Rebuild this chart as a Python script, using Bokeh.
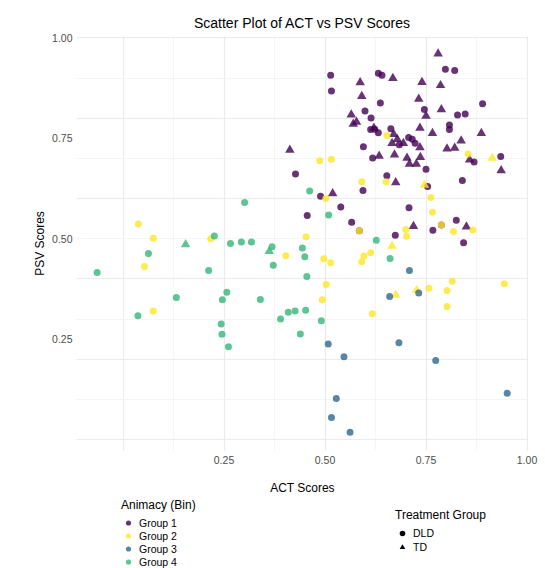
from bokeh.plotting import figure
from bokeh.layouts import column
from bokeh.models import FixedTicker, Legend, LegendItem, NumeralTickFormatter
from bokeh.embed import file_html
from bokeh.resources import INLINE

# ---------------- data ----------------
groups = ["Group 1", "Group 2", "Group 3", "Group 4"]
group_colors = ["#440154", "#FDE725", "#31688E", "#35B779"]
treatments = ["DLD", "TD"]
treatment_markers = ["circle", "triangle"]

x_tick_values = [0.25, 0.50, 0.75, 1.00]
y_tick_values = [0.25, 0.50, 0.75, 1.00]

# Group 1 (DLD)
g1_dld_act = [0.427, 0.456, 0.843, 0.798, 0.821, 0.514, 0.632, 0.641, 0.516, 0.637, 0.890,
              0.599, 0.746, 0.828, 0.847, 0.614, 0.808, 0.808, 0.613, 0.623, 0.632, 0.663,
              0.707, 0.716, 0.684, 0.723, 0.595, 0.618, 0.750, 0.869, 0.935, 0.653, 0.754,
              0.840, 0.594, 0.489, 0.539, 0.708, 0.566, 0.585, 0.767, 0.788, 0.825, 0.674]
g1_dld_psv = [0.661, 0.558, 0.490, 0.922, 0.919, 0.907, 0.912, 0.907, 0.868, 0.838, 0.836,
              0.818, 0.822, 0.808, 0.811, 0.801, 0.783, 0.772, 0.772, 0.773, 0.764, 0.774,
              0.752, 0.748, 0.734, 0.738, 0.729, 0.701, 0.673, 0.691, 0.705, 0.657, 0.630,
              0.645, 0.620, 0.606, 0.579, 0.577, 0.541, 0.520, 0.521, 0.534, 0.546, 0.509]
# Group 1 (TD)
g1_td_act = [0.413, 0.780, 0.587, 0.668, 0.740, 0.786, 0.591, 0.732, 0.788, 0.565, 0.750,
             0.570, 0.578, 0.621, 0.735, 0.766, 0.887, 0.670, 0.679, 0.666, 0.694, 0.735,
             0.802, 0.821, 0.837, 0.634, 0.672, 0.703, 0.736, 0.709, 0.726, 0.858, 0.936,
             0.675, 0.519, 0.719, 0.850]
g1_td_psv = [0.721, 0.961, 0.889, 0.900, 0.890, 0.882, 0.855, 0.848, 0.822, 0.809, 0.806,
             0.786, 0.791, 0.776, 0.776, 0.763, 0.763, 0.760, 0.748, 0.738, 0.738, 0.727,
             0.724, 0.726, 0.744, 0.706, 0.709, 0.701, 0.703, 0.686, 0.686, 0.697, 0.670,
             0.640, 0.613, 0.531, 0.530]
# Group 2 (DLD)
g2_dld_act = [0.038, 0.075, 0.217, 0.453, 0.403, 0.053, 0.075, 0.497, 0.514, 0.596, 0.613,
              0.591, 0.503, 0.493, 0.757, 0.815, 0.802, 0.802, 0.944, 0.617, 0.653, 0.487,
              0.516, 0.854, 0.591, 0.651, 0.502, 0.762, 0.766, 0.585, 0.700, 0.702, 0.788,
              0.818, 0.866]
g2_dld_psv = [0.537, 0.501, 0.500, 0.505, 0.458, 0.431, 0.320, 0.450, 0.440, 0.457, 0.465,
              0.443, 0.386, 0.348, 0.377, 0.394, 0.371, 0.331, 0.388, 0.313, 0.757, 0.694,
              0.698, 0.711, 0.642, 0.642, 0.600, 0.603, 0.566, 0.520, 0.523, 0.506, 0.534,
              0.518, 0.522]
# Group 2 (TD)
g2_td_act = [0.666, 0.675, 0.727, 0.914, 0.746]
g2_td_psv = [0.482, 0.360, 0.372, 0.701, 0.634]
# Group 3 (DLD)
g3_dld_act = [0.709, 0.660, 0.732, 0.508, 0.547, 0.683, 0.774, 0.951, 0.528, 0.516, 0.562]
g3_dld_psv = [0.421, 0.356, 0.365, 0.238, 0.206, 0.241, 0.197, 0.115, 0.102, 0.055, 0.018]
# Group 3 (TD)
g3_td_act = []
g3_td_psv = []
# Group 4 (DLD)
g4_dld_act = [0.462, 0.301, 0.226, 0.266, 0.293, 0.318, 0.369, 0.444, 0.450, 0.063, -0.064,
              0.212, 0.372, 0.455, 0.257, 0.132, 0.246, 0.340, 0.037, 0.390, 0.409, 0.426,
              0.452, 0.243, 0.245, 0.439, 0.261, 0.627, 0.661, 0.491, 0.509]
g4_dld_psv = [0.619, 0.590, 0.507, 0.488, 0.492, 0.492, 0.480, 0.477, 0.455, 0.463, 0.416,
              0.421, 0.434, 0.406, 0.367, 0.354, 0.348, 0.349, 0.308, 0.300, 0.317, 0.320,
              0.322, 0.288, 0.262, 0.263, 0.231, 0.496, 0.451, 0.296, 0.559]
# Group 4 (TD)
g4_td_act = [0.155, 0.362]
g4_td_psv = [0.486, 0.469]

series = [
    (g1_dld_act, g1_dld_psv, 0, 0), (g1_td_act, g1_td_psv, 0, 1),
    (g2_dld_act, g2_dld_psv, 1, 0), (g2_td_act, g2_td_psv, 1, 1),
    (g3_dld_act, g3_dld_psv, 2, 0), (g3_td_act, g3_td_psv, 2, 1),
    (g4_dld_act, g4_dld_psv, 3, 0), (g4_td_act, g4_td_psv, 3, 1),
]

FONT = "Liberation Sans"
NAN = float("nan")

# ---------------- main plot ----------------
p = figure(width=545, height=497, x_range=(-0.1151, 1.0037), y_range=(-0.0273, 1.0037),
           output_backend="svg", toolbar_location=None,
           min_border_left=76, min_border_right=17, min_border_top=36, min_border_bottom=45,
           title="Scatter Plot of ACT vs PSV Scores")
p.background_fill_color = "white"
p.border_fill_color = "white"
p.outline_line_color = None

p.title.align = "center"
p.title.text_font = FONT
p.title.text_font_size = "14px"
p.title.text_font_style = "normal"
p.title.text_color = "black"
p.title.standoff = 12

# grid
p.xgrid.ticker = FixedTicker(ticks=[0.0, 0.25, 0.5, 0.75, 1.0],
                             minor_ticks=[0.125, 0.375, 0.625, 0.875])
p.ygrid.ticker = FixedTicker(ticks=[0.0, 0.2, 0.4, 0.6, 0.8, 1.0],
                             minor_ticks=[0.1, 0.3, 0.5, 0.7, 0.9])
for g in (p.xgrid, p.ygrid):
    g.grid_line_color = "#EBEBEB"
    g.grid_line_width = 1.2
    g.minor_grid_line_color = "#F3F3F3"
    g.minor_grid_line_width = 0.8

# axes
p.xaxis.ticker = FixedTicker(ticks=x_tick_values)
p.yaxis.ticker = FixedTicker(ticks=y_tick_values)
for ax in (p.xaxis, p.yaxis):
    ax.formatter = NumeralTickFormatter(format="0.00")
    ax.axis_line_color = None
    ax.major_tick_line_color = None
    ax.minor_tick_line_color = None
    ax.major_tick_out = 0
    ax.major_tick_in = 0
    ax.minor_tick_out = 0
    ax.minor_tick_in = 0
    ax.major_label_text_font = FONT
    ax.major_label_text_font_size = "10.5px"
    ax.major_label_text_color = "#4D4D4D"
    ax.axis_label_text_font = FONT
    ax.axis_label_text_font_size = "12px"
    ax.axis_label_text_font_style = "normal"
    ax.axis_label_text_color = "black"
p.xaxis.axis_label = "ACT Scores"
p.yaxis.axis_label = "PSV Scores"
p.xaxis.major_label_standoff = 5
p.xaxis.axis_label_standoff = 14
p.yaxis.major_label_standoff = 4
p.yaxis.axis_label_standoff = 2

# points
for xs, ys, gi, ti in series:
    if not xs:
        continue
    p.scatter(x=xs, y=ys, marker=treatment_markers[ti], size=7 if ti == 0 else 9.5,
              fill_color=group_colors[gi], fill_alpha=0.8, line_color=None)

# ---------------- legend strip ----------------
q = figure(width=545, height=71, x_range=(0, 1), y_range=(0, 1),
           output_backend="svg", toolbar_location=None,
           x_axis_location=None, y_axis_location=None,
           min_border_left=76, min_border_right=17, min_border_top=0, min_border_bottom=0)
q.grid.visible = False
q.outline_line_color = None
q.background_fill_color = "white"
q.border_fill_color = "white"

grp_items = []
for name, col in zip(groups, group_colors):
    r = q.scatter(x=[NAN], y=[NAN], marker="circle", size=7, fill_color=col,
                  fill_alpha=0.8, line_color=None)
    grp_items.append(LegendItem(label=name, renderers=[r]))
trt_items = []
for name, mk in zip(treatments, treatment_markers):
    r = q.scatter(x=[NAN], y=[NAN], marker=mk, size=7, fill_color="black",
                  fill_alpha=1.0, line_color=None)
    trt_items.append(LegendItem(label=name, renderers=[r]))


def make_legend(items, title, loc, item_h):
    return Legend(items=items, title=title, location=loc, orientation="vertical",
                  glyph_width=14, glyph_height=item_h, label_height=item_h, spacing=0,
                  padding=0, margin=0, label_standoff=4, title_standoff=4,
                  background_fill_alpha=0, border_line_color=None,
                  label_text_font=FONT, label_text_font_size="10.5px",
                  label_text_color="black",
                  title_text_font=FONT, title_text_font_size="12px",
                  title_text_font_style="normal", title_text_color="black")


# locations are relative to the strip's frame (which starts at x = 76)
q.add_layout(make_legend(grp_items, "Animacy (Bin)", (45, 0), 13))
q.add_layout(make_legend(trt_items, "Treatment Group", (319, 14), 14))

layout = column(p, q, spacing=0)
open("out.html", "w").write(file_html(layout, INLINE))
